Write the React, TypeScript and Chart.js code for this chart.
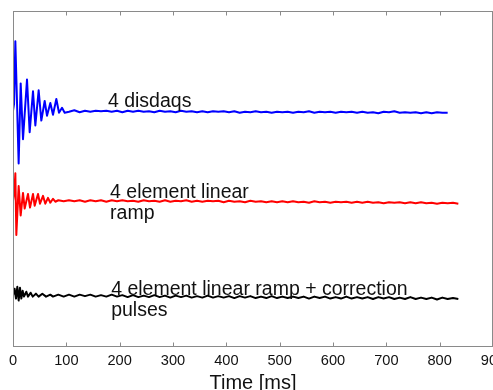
import React, { useEffect, useRef } from "react";
import { Chart, registerables } from "chart.js";

Chart.register(...registerables);

// x tick values (ms)
const xTicks = [0, 100, 200, 300, 400, 500, 600, 700, 800, 900];

// shared time grid (ms) for the low-amplitude ripple part of the traces
const rippleTimes = [
  75, 85, 95, 105, 115, 125, 135, 145, 155, 165, 175, 185, 195, 205, 215, 225, 235, 245, 255, 265,
  275, 285, 295, 305, 315, 325, 335, 345, 355, 365, 375, 385, 395, 405, 415, 425, 435, 445, 455, 465,
  475, 485, 495, 505, 515, 525, 535, 545, 555, 565, 575, 585, 595, 605, 615, 625, 635, 645, 655, 665,
  675, 685, 695, 705, 715, 725, 735, 745, 755, 765, 775, 785, 795, 805, 815, 825, 835,
];

// ---- blue: "4 disdaqs" ----
const blueEarlyTimes = [0, 2, 4.4, 7.5, 10.6, 14.4, 18.75, 26.25, 31.25, 37.5, 41.9, 48.1, 53.1, 59.4, 63.75, 70, 75, 81.25, 86.25, 91.9, 96.9];
const blueEarlyValues = [241, 248, 312, 250, 187, 269, 212, 273, 219, 261, 226, 262, 231, 251, 236, 249, 237, 253, 239, 244, 239];
const blueRippleStart = 3; // starts at 105 ms
const blueRippleValues = [
  240, 241.5, 239.5, 241, 240, 241, 240.5, 241, 240, 241, 239.5, 241, 240, 241, 240, 240.5, 239.5, 241,
  240, 240.5, 239.5, 241, 240, 240.5, 239.5, 240.5, 239.5, 240.5, 240, 240.5, 239.5, 240.5, 239, 240, 239.5, 240.5,
  239.5, 240, 239, 240, 239.5, 240, 239, 240, 239.5, 240.5, 239, 240, 239.5, 240, 239, 240, 239.5, 240,
  239, 240, 239, 239.5, 238.5, 240, 239.5, 240.5, 239, 239.5, 239, 239.5, 238.5, 239.5, 238.5, 239.5, 239, 239,
];

// ---- red: "4 element linear ramp" ----
const redEarlyTimes = [0, 2.5, 4.4, 6.25, 10.6, 14.4, 18.75, 21.9, 28.1, 31.9, 37.5, 40.6, 46.9, 50.6, 56.25, 60.6, 65.6, 70, 75, 79.4];
const redEarlyValues = [149, 158, 177, 114, 164, 134, 157, 141, 156, 142, 156, 144, 156, 146, 154, 146, 152, 147, 151, 148];
const redRippleStart = 1; // starts at 85 ms
const redRippleValues = [
  149.5, 148.5, 149.5, 148.5, 149.5, 148, 149.5, 148.5, 149.5, 148, 149.5, 148.5, 149.5, 148.5, 149, 148, 149.5, 148.5, 149,
  148, 149.5, 148, 149, 148.5, 149.5, 148, 149, 148, 149, 148.5, 149, 147.5, 149, 148, 148.5, 147.5, 149, 148,
  148.5, 147.5, 148.5, 147.5, 148.5, 147.5, 148.5, 147.5, 148, 147, 148.5, 147.5, 148, 147, 148, 147.5, 148, 147,
  148, 147, 148, 147, 147.5, 146.5, 147.5, 147, 147.5, 146.5, 147.5, 146.5, 147.5, 146.5, 147, 146, 147, 146.5, 147, 146,
];

// ---- black: "4 element linear ramp + correction pulses" ----
const blackEarlyTimes = [0, 3.1, 5.6, 8.1, 10.6, 13.1, 15.6, 18.1, 20.6, 25, 28.1, 33, 37, 43, 48, 55, 62, 70];
const blackEarlyValues = [52, 59, 49, 61, 47, 60, 49, 57, 51, 56, 51, 55, 51, 54, 51, 54, 51, 53];
const blackRippleStart = 0; // starts at 75 ms
const blackRippleValues = [
  51, 53, 51, 53, 51, 53, 51.5, 53, 51, 52.5, 51, 53, 51, 52.5, 50.5, 52.5, 50.5, 52, 50.5, 52.5,
  50.5, 52, 50, 52, 50.5, 52, 50, 51.5, 50, 52, 50, 51.5, 50, 51.5, 49.5, 51.5, 50, 51.5, 49.5, 51,
  49.5, 51.5, 49.5, 51, 49.5, 51, 49.5, 51, 49, 51, 49.5, 51, 49, 50.5, 49, 51, 49, 50.5, 49, 50.5,
  48.5, 50.5, 49, 50.5, 48.5, 50, 48.5, 50.5, 48.5, 50, 48.5, 50, 48, 50, 48.5, 49.5, 48.5,
];

// annotation texts (lines)
const blueLabelLines = ["4 disdaqs"];
const redLabelLines = ["4 element linear", "ramp"];
const blackLabelLines = ["4 element linear ramp + correction", "pulses"];

const xTitle = "Time [ms]";

function toPoints(earlyT: number[], earlyV: number[], rippleStart: number, rippleV: number[]) {
  const pts = earlyT.map((t, i) => ({ x: t, y: earlyV[i] }));
  rippleV.forEach((v, i) => pts.push({ x: rippleTimes[rippleStart + i], y: v }));
  return pts;
}

const FONT = "'Liberation Sans', Arial, Helvetica, sans-serif";

const framePlugin = {
  id: "frame",
  afterDatasetsDraw(chart: any) {
    const { ctx, chartArea } = chart;
    const xs = chart.scales.x;
    const ys = chart.scales.y;
    ctx.save();
    ctx.strokeStyle = "#8a8a8a";
    ctx.lineWidth = 1;
    const l = Math.round(chartArea.left) + 0.5;
    const r = Math.round(chartArea.right) - 0.5;
    const t = Math.round(chartArea.top) + 0.5;
    const b = Math.round(chartArea.bottom) - 0.5;
    ctx.strokeRect(l, t, r - l, b - t);
    ctx.beginPath();
    xTicks.forEach((v) => {
      const px = Math.round(xs.getPixelForValue(v)) + 0.5;
      ctx.moveTo(px, b);
      ctx.lineTo(px, b - 4);
      ctx.moveTo(px, t);
      ctx.lineTo(px, t + 4);
    });
    ctx.stroke();

    // annotations
    ctx.fillStyle = "#111";
    ctx.font = `19.5px ${FONT}`;
    ctx.textAlign = "left";
    ctx.textBaseline = "alphabetic";
    const draw = (lines: string[], xv: number, yv: number) => {
      const x = xs.getPixelForValue(xv);
      const y0 = ys.getPixelForValue(yv);
      lines.forEach((s, i) => ctx.fillText(s, x, y0 + i * 21));
    };
    draw(blueLabelLines, 178, 245);
    draw(redLabelLines, 182, 152);
    draw(blackLabelLines, 184, 53);
    ctx.restore();
  },
};

export default function App() {
  const ref = useRef<HTMLCanvasElement | null>(null);
  useEffect(() => {
    document.body.style.overflow = "hidden";
    const canvas = ref.current!;
    const chart = new Chart(canvas, {
      type: "line",
      data: {
        datasets: [
          {
            label: "4 disdaqs",
            data: toPoints(blueEarlyTimes, blueEarlyValues, blueRippleStart, blueRippleValues),
            borderColor: "#0000ff",
            borderWidth: 2,
            pointRadius: 0,
            tension: 0,
            borderJoinStyle: "round",
          },
          {
            label: "4 element linear ramp",
            data: toPoints(redEarlyTimes, redEarlyValues, redRippleStart, redRippleValues),
            borderColor: "#ff0000",
            borderWidth: 2,
            pointRadius: 0,
            tension: 0,
            borderJoinStyle: "round",
          },
          {
            label: "4 element linear ramp + correction pulses",
            data: toPoints(blackEarlyTimes, blackEarlyValues, blackRippleStart, blackRippleValues),
            borderColor: "#000000",
            borderWidth: 2,
            pointRadius: 0,
            tension: 0,
            borderJoinStyle: "round",
          },
        ],
      },
      options: {
        animation: false,
        responsive: false,
        layout: { padding: { left: 13, top: 11, right: 27, bottom: 8.5 } },
        plugins: { legend: { display: false }, tooltip: { enabled: false } },
        scales: {
          x: {
            type: "linear",
            min: 0,
            max: 900,
            grid: { display: false, drawTicks: false },
            border: { display: false },
            afterBuildTicks: (s: any) => {
              s.ticks = xTicks.map((v) => ({ value: v }));
            },
            ticks: {
              padding: 6.7,
              color: "#111",
              font: { family: FONT, size: 14.6, lineHeight: 1 },
              maxRotation: 0,
              autoSkip: false,
            },
            title: {
              display: true,
              text: xTitle,
              color: "#111",
              font: { family: FONT, size: 20, lineHeight: 0.8 },
              padding: { top: 1, bottom: 0 },
            },
          },
          y: {
            display: false,
            min: 0,
            max: 343,
          },
        },
      },
      plugins: [framePlugin],
    });
    return () => chart.destroy();
  }, []);
  return (
    <div style={{ position: "fixed", left: 0, top: 0, width: 520, height: 400, background: "#fff" }}>
      <canvas ref={ref} width={520} height={400} style={{ width: 520, height: 400, display: "block" }} />
    </div>
  );
}
